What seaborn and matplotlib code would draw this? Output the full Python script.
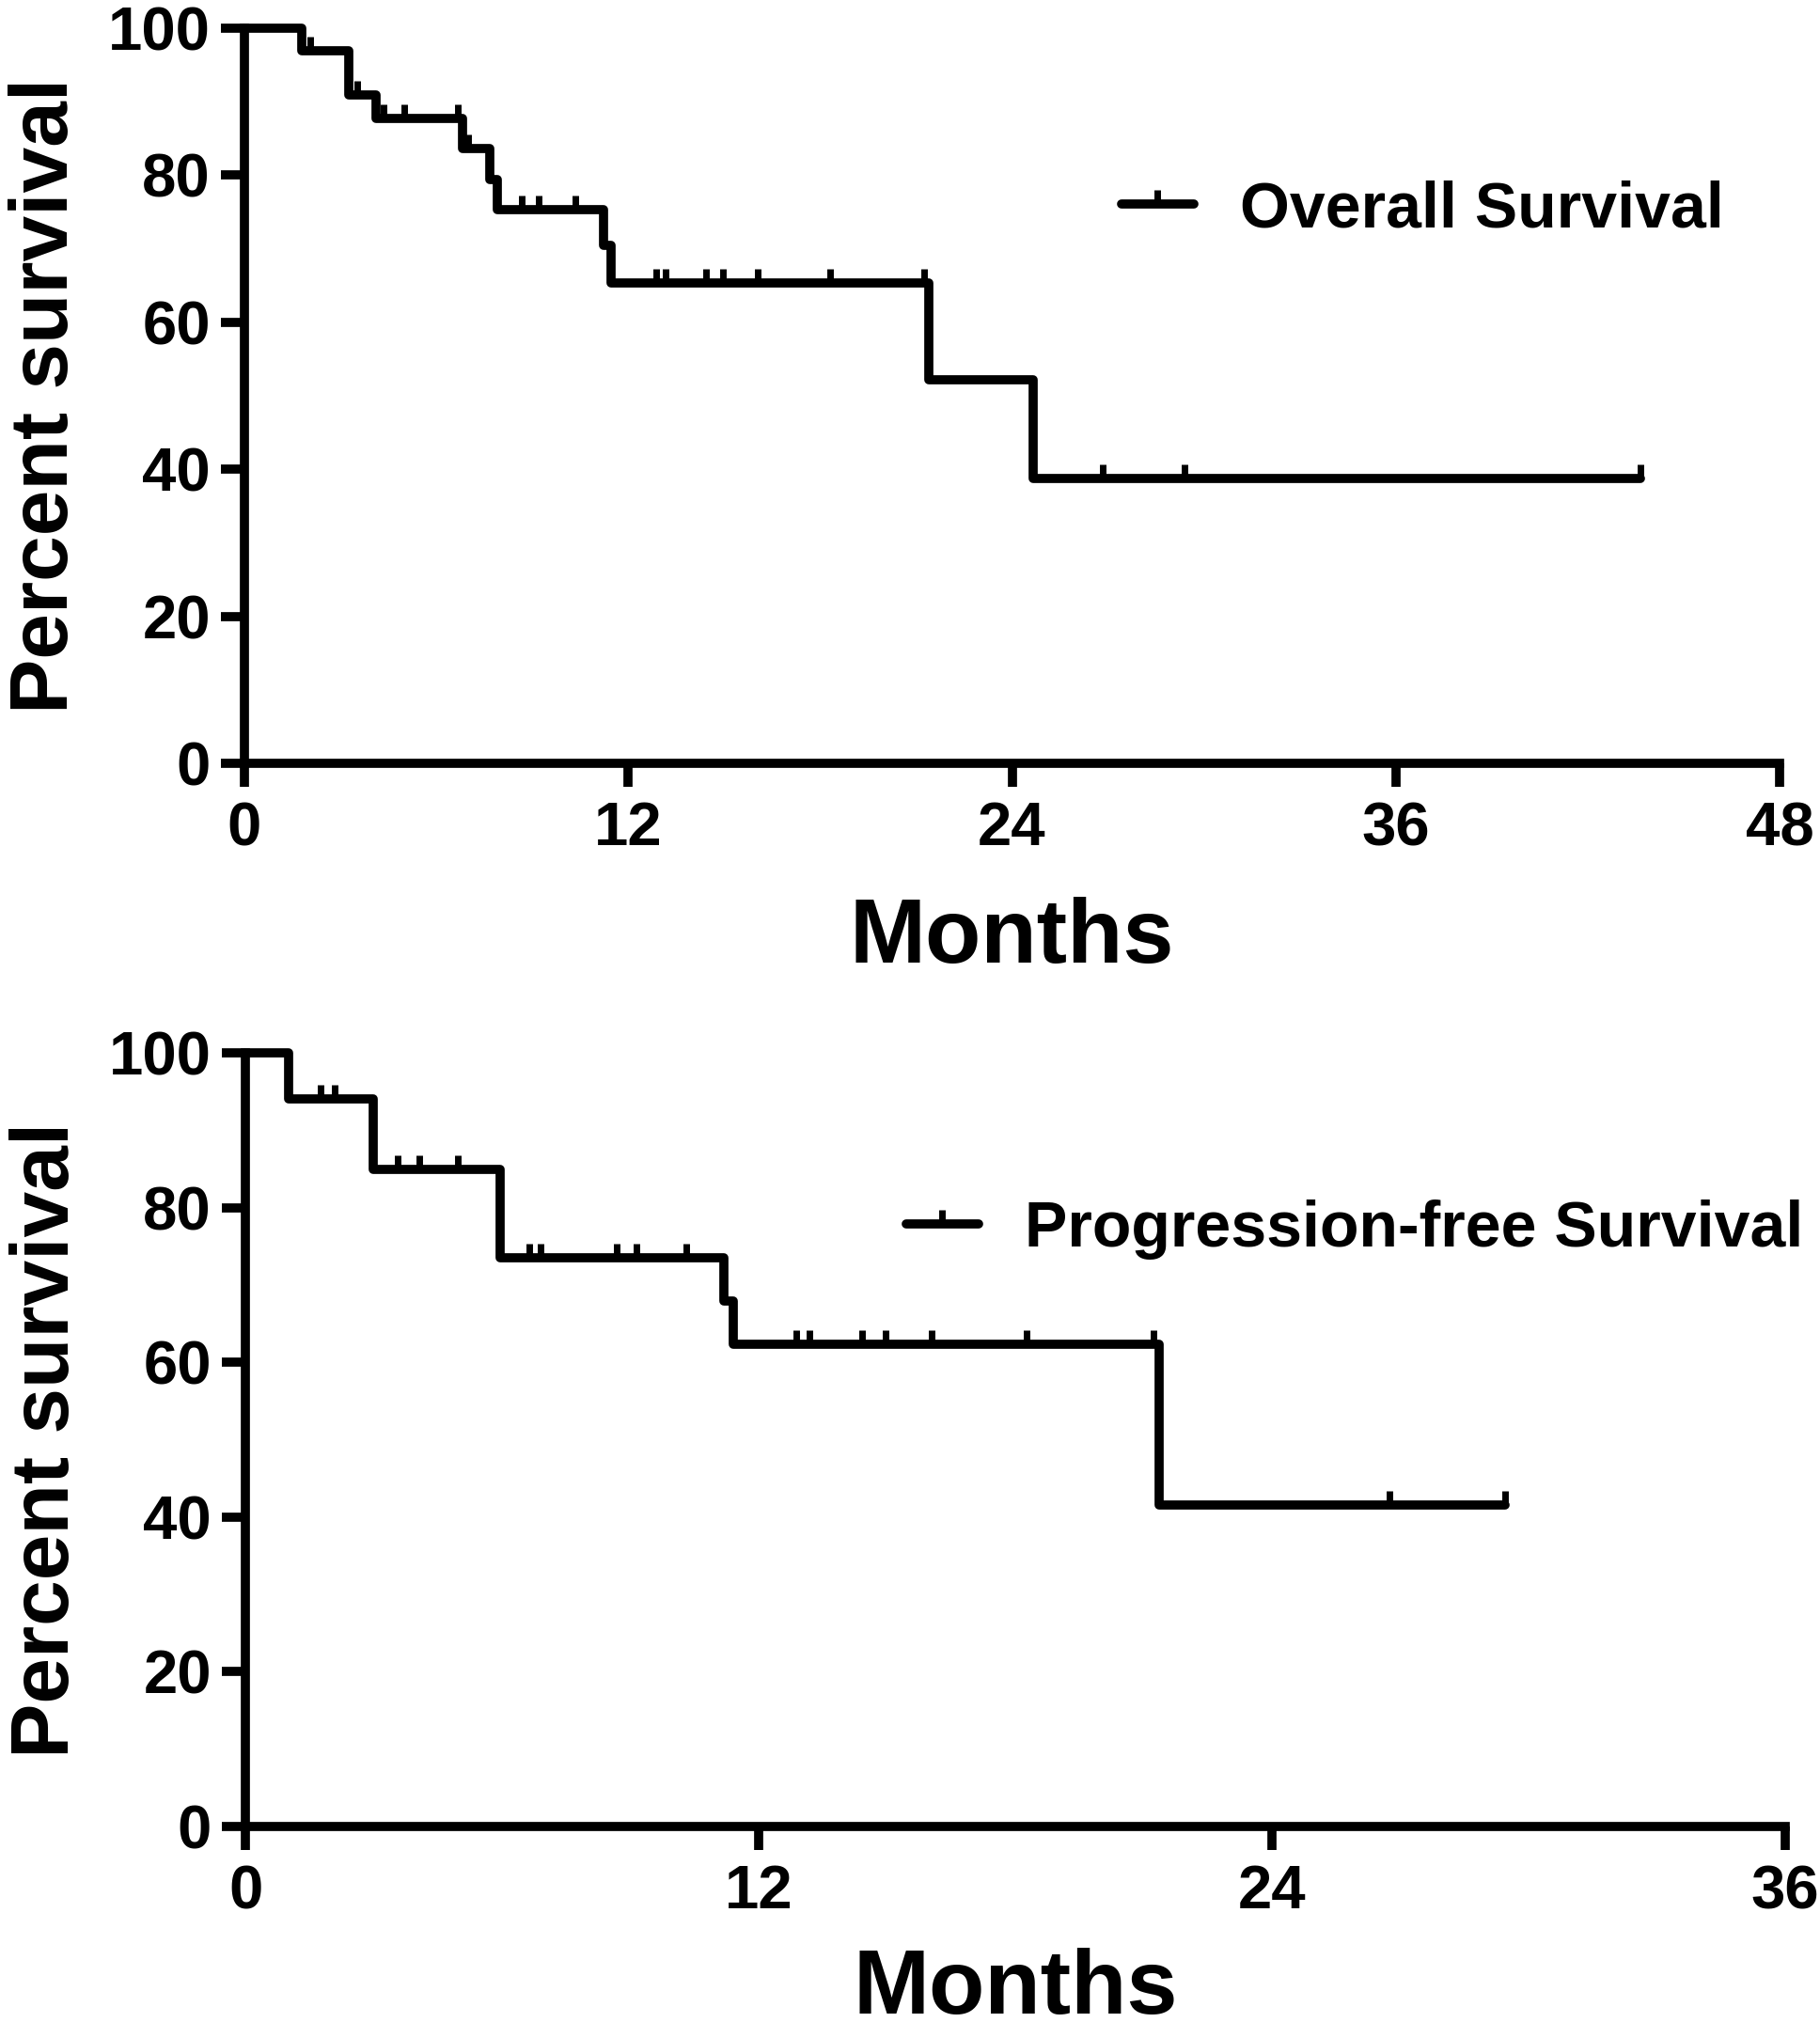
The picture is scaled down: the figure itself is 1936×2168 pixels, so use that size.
import numpy as np
import matplotlib
matplotlib.use("Agg")
import matplotlib.pyplot as plt
from matplotlib.path import Path
from matplotlib.lines import Line2D
import seaborn as sns

# --- datos (meses, % supervivencia) ---
os_time = [0, 1.8, 3.27, 4.11, 6.83, 7.67, 7.9, 11.23, 11.46, 21.4, 24.65, 43.66]
os_surv = [100, 96.9, 90.9, 87.7, 83.6, 79.4, 75.3, 70.4, 65.3, 52.2, 38.8, 38.8]
os_censor = [2.05, 3.53, 4.35, 5.0, 6.67, 7.0, 8.67, 9.19, 10.34, 12.86, 13.17,
             14.44, 14.96, 16.06, 18.31, 21.26, 26.85, 29.4, 43.66]

pfs_time = [0, 1.02, 2.99, 5.96, 11.18, 11.41, 21.37, 29.45]
pfs_surv = [100, 94.1, 84.9, 73.5, 67.9, 62.3, 41.5, 41.5]
pfs_censor = [1.76, 2.08, 3.57, 4.07, 4.97, 6.64, 6.9, 8.68, 9.14, 10.3, 12.88,
              13.18, 14.42, 14.96, 16.05, 18.26, 21.24, 26.75, 29.45]

os_label = "Overall Survival"
pfs_label = "Progression-free Survival"
os_xticks = [0, 12, 24, 36, 48]
pfs_xticks = [0, 12, 24, 36]
yticks = [0, 20, 40, 60, 80, 100]

sns.set_theme(style="ticks")
plt.rcParams['font.family'] = ['Liberation Sans', 'DejaVu Sans']
plt.rcParams['font.weight'] = 'bold'
plt.rcParams['text.color'] = 'black'
plt.rcParams['axes.labelcolor'] = 'black'

W, H = 1936, 2168
fig = plt.figure(figsize=(W / 100, H / 100), dpi=100)

# marca de censura: linea vertical hacia arriba
tick_mark = Path([(0, 0), (0, 1)], [Path.MOVETO, Path.LINETO])
LW = 7
FS_TICK = 47
FS_LAB = 70


def level_at(times, surv, t):
    idx = np.searchsorted(times, t, side='right') - 1
    return np.asarray(surv)[idx]


def km_panel(rect, times, surv, censor, xticks, label, leg_xy, xpad):
    ax = fig.add_axes(rect)
    sns.lineplot(x=times, y=surv, ax=ax, drawstyle='steps-post', estimator=None,
                 sort=False, color='black', lw=LW, clip_on=False)
    cy = level_at(times, surv, censor)
    ax.plot(censor, cy, ls='none', marker=tick_mark, ms=22, mew=5,
            color='black', clip_on=False)
    ax.set_xlim(0, xticks[-1])
    ax.set_ylim(0, 100)
    ax.set_xticks(xticks)
    ax.set_yticks(yticks)
    sns.despine(ax=ax)
    for s in ['left', 'bottom']:
        ax.spines[s].set_linewidth(LW)
        ax.spines[s].set_color('black')
    ax.tick_params(axis='both', length=18, width=LW, color='black',
                   labelsize=FS_TICK, labelcolor='black')
    ax.tick_params(axis='y', pad=8)
    ax.tick_params(axis='x', pad=11)
    for t in ax.get_xticklabels() + ax.get_yticklabels():
        t.set_fontweight('bold')
    ax.set_xlabel('Months', fontsize=FS_LAB, fontweight='bold', labelpad=xpad,
                  color='black')
    ax.set_ylabel('Percent survival', fontsize=63, fontweight='bold', labelpad=18,
                  color='black')
    handle = Line2D([0], [0], color='black', lw=LW, marker=tick_mark, ms=22, mew=5)
    ax.legend([handle], [label], loc='center left',
              bbox_to_anchor=(leg_xy[0] / W, 1 - leg_xy[1] / H),
              bbox_transform=fig.transFigure, frameon=False, borderpad=0,
              borderaxespad=0, handlelength=1.13, handletextpad=0.72,
              numpoints=1, labelcolor='black',
              prop={'size': 49, 'weight': 'bold'})
    return ax


km_panel([260 / W, 1 - 812 / H, 1633 / W, 782 / H], os_time, os_surv, os_censor,
         os_xticks, os_label, (1193, 223), 30)
km_panel([261 / W, 1 - 1943 / H, 1638 / W, 823 / H], pfs_time, pfs_surv, pfs_censor,
         pfs_xticks, pfs_label, (964, 1308), 21)

fig.savefig('out.png', dpi=100, facecolor='white')
